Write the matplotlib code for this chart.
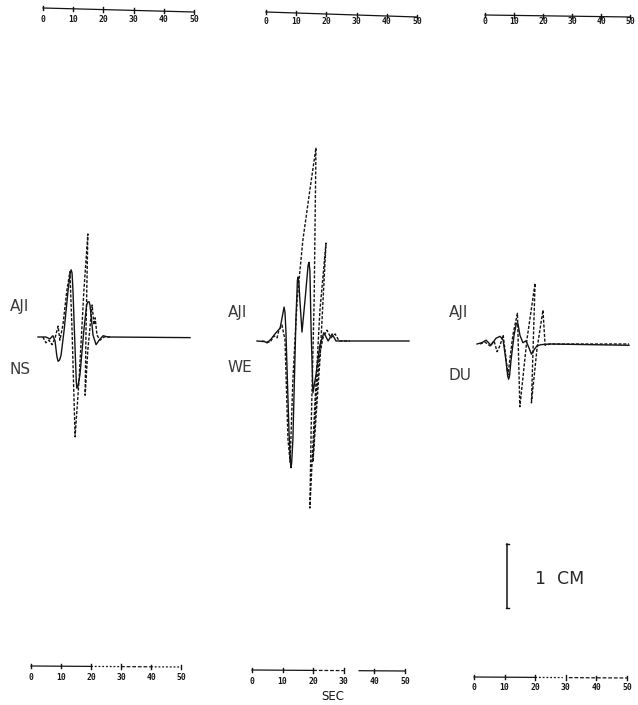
import matplotlib
matplotlib.use("Agg")
import matplotlib.pyplot as plt

W, H = 638, 705            # canvas size in pixels (dpi 100)
PX_PER_CM = 64.0           # vertical plot scale
SPAN = 50.0                # seconds shown across each trace window
PX_PER_S = 152.0 / SPAN

station = "AJI"
components = ["NS", "WE", "DU"]

# Displacement traces: time (s) and amplitude (cm).
# Observed records are drawn solid, synthetics dashed.
ns_obs_t = [0, 2.6, 3.9, 4.9, 5.6, 6.2, 6.6, 7.1, 7.6, 8.6, 9.9, 10.6, 10.9, 11.2, 11.5,
            12.2, 12.6, 12.8, 13.1, 13.8, 15.1, 16.0, 16.4, 16.8, 17.1, 18.1, 19.1, 20.1,
            21.4, 23.0, 50.0]
ns_obs_a = [0, 0, -0.03, 0.02, -0.06, -0.30, -0.38, -0.36, -0.28, 0.11, 0.73, 1.00, 1.05,
            1.00, 0.73, -0.2, -0.70, -0.80, -0.78, -0.59, 0.11, 0.50, 0.55, 0.55, 0.50,
            0.03, -0.12, -0.05, 0.02, 0, -0.01]
ns_syn_t = [1.6, 2.6, 3.6, 4.6, 5.6, 6.6, 7.2, 8.2, 9.5, 10.5, 11.2, 12.2, 13.5, 15.1,
            16.4, 15.8, 15.5, 16.4, 17.8, 18.4, 18.8, 19.4, 20.4, 21.7, 23.7]
ns_syn_a = [0, -0.09, -0.05, -0.12, -0.02, 0.17, -0.05, 0.19, 0.73, 1.02, 0.11, -1.56,
            -0.67, 0.73, 1.61, 0.11, -0.91, -0.2, 0.5, 0.19, 0.3, 0.03, -0.05, 0, 0]

we_obs_t = [0, 2.6, 3.3, 4.6, 6.25, 7.6, 8.6, 8.9, 9.2, 9.5, 10.5, 11.0, 11.2, 11.4, 11.8,
            12.8, 13.3, 13.5, 13.8, 14.1, 14.8, 15.8, 16.8, 17.1, 17.4, 17.8, 18.4, 19.4,
            20.7, 22.0, 23.4, 24.7, 26.0, 28.9, 50.0]
we_obs_a = [0, -0.01, -0.03, 0.03, 0.13, 0.2, 0.45, 0.53, 0.45, 0.17, -1.39, -1.90, -1.98,
            -1.90, -1.55, 0.33, 0.95, 1.0, 0.90, 0.64, 0.14, 0.64, 1.18, 1.23, 1.10, 0.17,
            -0.81, -0.53, -0.06, 0.13, 0, 0.11, 0, 0, 0]
we_syn_t = [1.6, 4.3, 5.6, 6.6, 7.2, 8.2, 9.2, 10.2, 10.9, 11.8, 13.2, 15.1, 17.4, 19.4,
            18.8, 17.8, 17.4, 19.1, 20.7, 22.7, 20.7, 18.4, 19.4, 20.4, 21.7, 23.0, 24.3,
            25.7, 27.0, 30.6]
we_syn_a = [0, -0.02, 0.08, 0.05, 0.17, 0.25, 0.02, -1.55, -1.89, -0.61, 0.64, 1.58, 2.36,
            3.02, 0.64, -1.39, -2.61, -0.92, 0.48, 1.53, -0.3, -1.89, -0.92, -0.27, 0.05,
            0.17, 0.05, 0.11, 0, 0]

du_obs_t = [0, 1.6, 3.0, 4.6, 6.25, 7.6, 8.6, 9.5, 10.1, 10.4, 10.7, 11.2, 12.2, 12.9,
            13.2, 13.5, 14.1, 15.1, 16.1, 17.1, 17.9, 18.8, 19.7, 21.1, 24.0, 50.0]
du_obs_a = [0, 0.02, 0.06, -0.02, 0.09, 0.12, 0.06, -0.25, -0.50, -0.55, -0.50, -0.25,
            0.14, 0.31, 0.33, 0.31, 0.14, 0.02, 0.05, -0.06, -0.16, -0.09, -0.03, -0.01, 0,
            -0.02]
du_syn_t = [1.0, 2.6, 4.3, 5.6, 6.6, 7.6, 8.6, 10.2, 11.8, 13.3, 14.1, 16.4, 19.1, 17.9,
            19.7, 21.7, 22.4, 24.0, 50.0]
du_syn_a = [0, 0.03, -0.03, 0.05, -0.12, -0.02, 0.14, -0.48, 0.14, 0.48, -0.98, 0.06, 0.95,
            -0.92, -0.09, 0.53, -0.02, 0, 0]

scale_ticks = [0, 10, 20, 30, 40, 50]
scale_labels = ["0", "10", "20", "30", "40", "50"]
cm_bar = 1.0
time_unit = "SEC"

INK = "#141414"
SOLID = dict(color=INK, lw=1.0, solid_joinstyle="round", clip_on=False)
DASHED = dict(color=INK, lw=1.0, linestyle=(0, (2.2, 1.2)), clip_on=False)

fig = plt.figure(figsize=(W / 100, H / 100), dpi=100)
fig.patch.set_facecolor("white")


def px_axes(left, right):
    """Axes spanning the full height, 0..SPAN s across [left, right] pixels."""
    ax = fig.add_axes([left / W, 0, (right - left) / W, 1])
    ax.set_xlim(0, SPAN)
    ax.axis("off")
    return ax


def trace_axes(x0, baseline):
    ax = px_axes(x0, x0 + SPAN * PX_PER_S)
    ax.set_ylim(-(H - baseline) / PX_PER_CM, baseline / PX_PER_CM)
    return ax


def time_scale(left, right, y_left, y_right, y_lab, pieces):
    """Plotter-style time scale drawn in pixel rows; pieces = [(t0, t1, style)]."""
    ax = px_axes(left, right)
    ax.set_ylim(H, 0)
    slope = (y_right - y_left) / SPAN
    for t0, t1, style in pieces:
        ls = {"solid": "-", "dot": (0, (1.5, 1.5)), "dash": (0, (3, 1.5))}[style]
        ax.plot([t0, t1], [y_left + slope * t0, y_left + slope * t1],
                color=INK, lw=0.9, linestyle=ls, clip_on=False)
    for t, lab in zip(scale_ticks, scale_labels):
        y = y_left + slope * t
        ax.plot([t, t], [y - 2.2, y + 2.2], color=INK, lw=1.0, clip_on=False)
        ax.text(t, y_lab, lab, ha="center", va="center", fontsize=5.8,
                family="DejaVu Sans Mono", weight="bold", color=INK)
    return ax


# panel geometry: trace origin x, baseline y, label positions (pixels)
panels = [
    dict(x0=38, yb=337, lab_x=10, aji_y=306, comp_y=369,
         top=(43, 194, 8, 12, 20), bot=(31, 181, 666, 667, 677),
         bot_pieces=[(0, 20, "solid"), (20, 30, "dot"), (30, 40, "dash"), (40, 50, "dot")]),
    dict(x0=257, yb=341, lab_x=228, aji_y=312, comp_y=368,
         top=(266, 417, 12, 17, 21), bot=(252, 405, 670, 671, 681),
         bot_pieces=[(0, 20, "solid"), (20, 30, "dash"), (35, 50, "solid")]),
    dict(x0=477, yb=344, lab_x=449, aji_y=313, comp_y=375,
         top=(485, 630, 15, 17, 22), bot=(474, 627, 677, 678, 687),
         bot_pieces=[(0, 20, "solid"), (20, 29, "dot"), (31, 50, "dash")]),
]
traces = [(ns_obs_t, ns_obs_a, ns_syn_t, ns_syn_a),
          (we_obs_t, we_obs_a, we_syn_t, we_syn_a),
          (du_obs_t, du_obs_a, du_syn_t, du_syn_a)]

axes = []
for p, comp, (ot, oa, st, sa) in zip(panels, components, traces):
    ax = trace_axes(p["x0"], p["yb"])
    ax.plot(st, sa, **DASHED)
    ax.plot(ot, oa, **SOLID)
    axes.append(ax)
    fig.text(p["lab_x"] / W, 1 - p["aji_y"] / H, station, ha="left", va="center",
             fontsize=11, color="#3a3a3a")
    fig.text(p["lab_x"] / W, 1 - p["comp_y"] / H, comp, ha="left", va="center",
             fontsize=11, color="#3a3a3a")
    l, r, yl, yr, ylab = p["top"]
    time_scale(l, r, yl, yr, ylab, [(0, 50, "solid")])
    l, r, yl, yr, ylab = p["bot"]
    time_scale(l, r, yl, yr, ylab, p["bot_pieces"])

# 1 cm amplitude bar in the DU panel
ax3 = axes[2]
bar_t, bar_bottom = 9.9, -4.12
ax3.plot([bar_t, bar_t], [bar_bottom, bar_bottom + cm_bar], color=INK, lw=1.1, clip_on=False)
for yy in (bar_bottom, bar_bottom + cm_bar):
    ax3.plot([bar_t - 0.5, bar_t + 0.5], [yy, yy], color=INK, lw=1.0, clip_on=False)
fig.text(535 / W, 1 - 579 / H, f"{cm_bar:.0f}  CM", ha="left", va="center",
         fontsize=12.5, color="#2a2a2a")

fig.text(333 / W, 1 - 697 / H, time_unit, ha="center", va="center",
         fontsize=8.5, color=INK)

fig.savefig("out.png", dpi=100, facecolor="white")
